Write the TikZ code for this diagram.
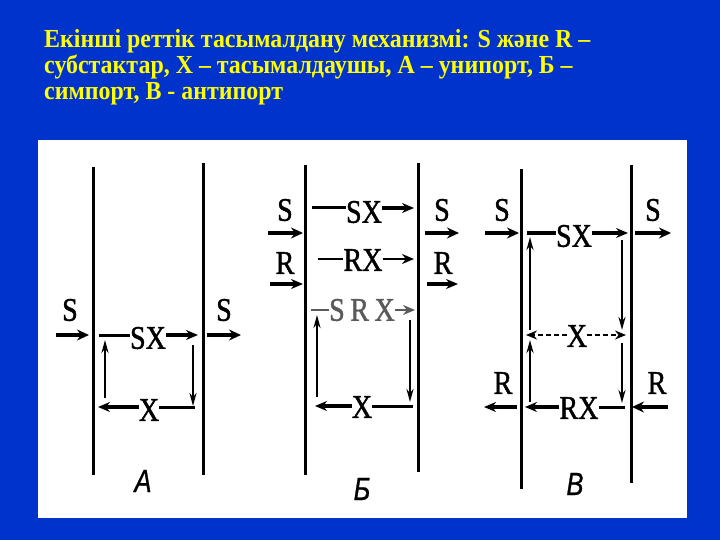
\documentclass[tikz,border=0pt]{standalone}
\usepackage{fontspec}
\setmainfont{Liberation Serif}
\newfontfamily\ttlfont[UprightFont={* Bold},FakeStretch=0.92]{Liberation Serif}
\newfontfamily\lblfont[FakeStretch=0.85,FakeBold=1.2]{Liberation Serif}
\newfontfamily\panfont[FakeStretch=0.8,FakeBold=0.8]{Liberation Sans}
\usetikzlibrary{arrows.meta}
\definecolor{bgblue}{RGB}{0,51,204}
\definecolor{ttl}{RGB}{255,255,0}
\definecolor{grayrow}{RGB}{90,90,90}
\begin{document}
\begin{tikzpicture}[x=1pt,y=-1pt,
  ttlstyle/.style={anchor=base west,inner sep=0pt,text=ttl,font=\ttlfont\fontsize{26}{26}\selectfont},
  lbl/.style={inner sep=0pt,anchor=center,font=\lblfont\fontsize{33}{33}\selectfont},
  panlbl/.style={inner sep=0pt,anchor=center,font=\panfont\itshape\fontsize{32}{32}\selectfont},
  membrane/.style={line width=3pt},
  outarrow/.style={line width=4.4pt,-{Stealth[length=12pt,width=11pt]}},
  inarrow/.style={line width=3.4pt,-{Stealth[length=12pt,width=10pt]}},
  inline/.style={line width=3pt},
  varrow/.style={line width=2.2pt,-{Stealth[length=13pt,width=7pt]}},
  dasharrow/.style={line width=2.6pt,dash pattern=on 5pt off 3pt,-{Stealth[length=11pt,width=9pt]}}
]
\fill[bgblue] (0,0) rectangle (720,540);
\useasboundingbox (0,0) rectangle (720,540);
\fill[white] (38,140) rectangle (687,518);

% Title
\node[ttlstyle] (t1) at (44,48) {Екінші реттік тасымалдану механизмі: S және R –};
\node[ttlstyle] (t2) at (44,74) {субстактар, X – тасымалдаушы, A – унипорт, Б –};
\node[ttlstyle] (t3) at (44,100) {симпорт, В - антипорт};

% ===== Panel A =====
\coordinate (aLt) at (93,167); \coordinate (aLb) at (93,475);
\coordinate (aRt) at (203,163); \coordinate (aRb) at (203,475);
\draw[membrane] (aLt) -- (aLb);
\draw[membrane] (aRt) -- (aRb);
\node[lbl] (aS1) at (70,310) {S};
\node[lbl] (aS2) at (224,310) {S};
\coordinate (aO1s) at (56,335); \coordinate (aO1e) at (89,335);
\coordinate (aO2s) at (207,335); \coordinate (aO2e) at (241,335);
\draw[outarrow] (aO1s) -- (aO1e);
\draw[outarrow] (aO2s) -- (aO2e);
\node[lbl] (aSX) at (148,338) {SX};
\node[lbl] (aX) at (149,410) {X};
\coordinate (aSXl) at (99,335); \coordinate (aSXr) at (198,335);
\draw[inline] (aSXl) -- (aSX.west |- aSXl);
\draw[inarrow] (aSX.east |- aSXr) -- (aSXr);
\coordinate (aXl) at (98,407); \coordinate (aXr) at (195,407);
\draw[inline] (aX.east |- aXr) -- (aXr);
\draw[inarrow] (aX.west |- aXl) -- (aXl);
\coordinate (aDs) at (193,345); \coordinate (aDe) at (193,406);
\draw[varrow] (aDs) -- (aDe);
\coordinate (aUs) at (105,398); \coordinate (aUe) at (105,340);
\draw[varrow] (aUs) -- (aUe);
\node[panlbl] (aP) at (143,481) {A};

% ===== Panel Б =====
\coordinate (bLt) at (305,165); \coordinate (bLb) at (305,475);
\coordinate (bRt) at (418,163); \coordinate (bRb) at (418,472);
\draw[membrane] (bLt) -- (bLb);
\draw[membrane] (bRt) -- (bRb);
\node[lbl] (bS1) at (285,210) {S};
\node[lbl] (bR1) at (285,263) {R};
\node[lbl] (bS2) at (442,210) {S};
\node[lbl] (bR2) at (443,263) {R};
\coordinate (bO1s) at (268,233); \coordinate (bO1e) at (303,233);
\coordinate (bO2s) at (270,284); \coordinate (bO2e) at (303,284);
\coordinate (bO3s) at (425,233); \coordinate (bO3e) at (459,233);
\coordinate (bO4s) at (427,284); \coordinate (bO4e) at (458,284);
\draw[outarrow] (bO1s) -- (bO1e);
\draw[inarrow] (bO2s) -- (bO2e);
\draw[outarrow] (bO3s) -- (bO3e);
\draw[inarrow] (bO4s) -- (bO4e);
\node[lbl] (bSX) at (364,212) {SX};
\node[lbl] (bRX) at (363,260) {RX};
\node[lbl,text=grayrow] (bSRX) at (362,310) {S\,R\,X};
\node[lbl] (bX) at (362,407) {X};
\coordinate (b1l) at (312,208); \coordinate (b1r) at (414,208);
\draw[inline] (b1l) -- (bSX.west |- b1l);
\draw[inarrow] (bSX.east |- b1r) -- (b1r);
\coordinate (b2l) at (318,259); \coordinate (b2r) at (414,259);
\draw[inline,line width=2.4pt] (b2l) -- (bRX.west |- b2l);
\draw[inarrow,line width=2.8pt] (bRX.east |- b2r) -- (b2r);
\coordinate (b3l) at (311,310); \coordinate (b3r) at (415,310);
\draw[inline,line width=2.4pt,grayrow] (b3l) -- (bSRX.west |- b3l);
\draw[inarrow,line width=2.4pt,grayrow] (bSRX.east |- b3r) -- (b3r);
\coordinate (bXl) at (315,406); \coordinate (bXr) at (413,406);
\draw[inline] (bX.east |- bXr) -- (bXr);
\draw[inarrow] (bX.west |- bXl) -- (bXl);
\coordinate (bDs) at (410,320); \coordinate (bDe) at (410,402);
\draw[varrow] (bDs) -- (bDe);
\coordinate (bUs) at (317,397); \coordinate (bUe) at (317,315);
\draw[varrow] (bUs) -- (bUe);
\node[panlbl] (bP) at (362,489) {Б};

% ===== Panel В =====
\coordinate (cLt) at (521,169); \coordinate (cLb) at (521,489);
\coordinate (cRt) at (631,165); \coordinate (cRb) at (631,483);
\draw[membrane] (cLt) -- (cLb);
\draw[membrane] (cRt) -- (cRb);
\node[lbl] (cS1) at (502,210) {S};
\node[lbl] (cS2) at (653,210) {S};
\node[lbl] (cR1) at (503,383) {R};
\node[lbl] (cR2) at (657,383) {R};
\coordinate (cO1s) at (485,233); \coordinate (cO1e) at (519,233);
\coordinate (cO2s) at (635,233); \coordinate (cO2e) at (671,233);
\coordinate (cO3s) at (517,407); \coordinate (cO3e) at (484,407);
\coordinate (cO4s) at (668,407); \coordinate (cO4e) at (632,407);
\draw[outarrow] (cO1s) -- (cO1e);
\draw[outarrow] (cO2s) -- (cO2e);
\draw[inarrow] (cO3s) -- (cO3e);
\draw[outarrow] (cO4s) -- (cO4e);
\node[lbl] (cSX) at (574,236) {SX};
\node[lbl] (cX) at (577,336) {X};
\node[lbl] (cRX) at (579,408) {RX};
\coordinate (c1l) at (527,233); \coordinate (c1r) at (628,233);
\draw[inline] (c1l) -- (cSX.west |- c1l);
\draw[inarrow] (cSX.east |- c1r) -- (c1r);
\coordinate (c2l) at (526,335); \coordinate (c2r) at (626,335);
\draw[dasharrow] (cX.west |- c2l) -- (c2l);
\draw[dasharrow] (cX.east |- c2r) -- (c2r);
\coordinate (c3l) at (525,407); \coordinate (c3r) at (625,407);
\draw[inarrow] (cRX.west |- c3l) -- (c3l);
\draw[inline] (cRX.east |- c3r) -- (c3r);
\coordinate (cD1s) at (622,240); \coordinate (cD1e) at (622,330);
\coordinate (cD2s) at (622,343); \coordinate (cD2e) at (622,403);
\draw[varrow] (cD1s) -- (cD1e);
\draw[varrow] (cD2s) -- (cD2e);
\coordinate (cU1s) at (530,330); \coordinate (cU1e) at (530,237);
\coordinate (cU2s) at (530,402); \coordinate (cU2e) at (530,340);
\draw[varrow] (cU1s) -- (cU1e);
\draw[varrow] (cU2s) -- (cU2e);
\node[panlbl] (cP) at (575,484) {В};
\end{tikzpicture}
\end{document}
